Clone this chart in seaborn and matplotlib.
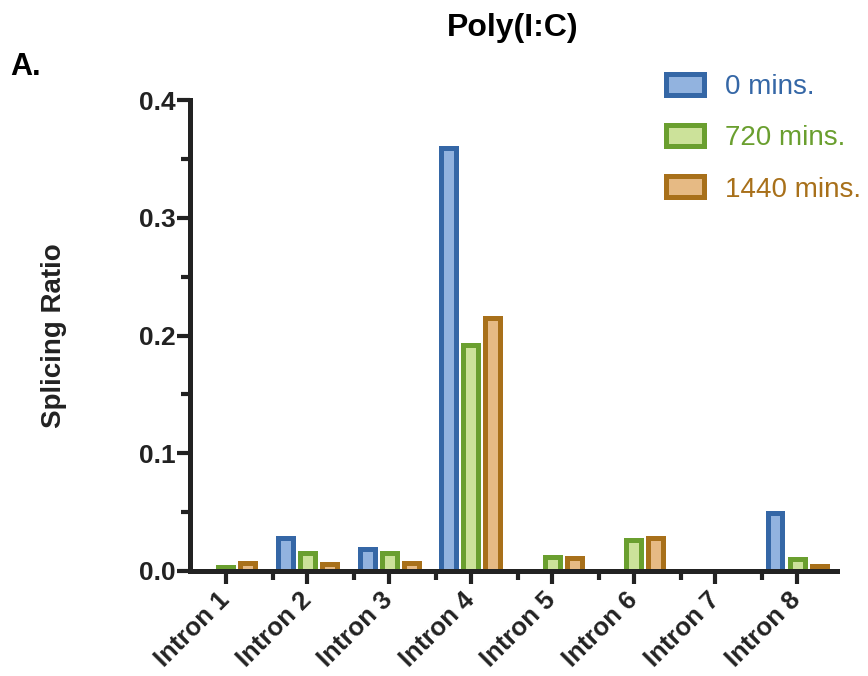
import matplotlib
matplotlib.use("Agg")
import matplotlib.pyplot as plt
from matplotlib.patches import Patch
from matplotlib.ticker import MultipleLocator, FixedLocator, FormatStrFormatter
import numpy as np
import pandas as pd
import seaborn as sns

# Splicing ratios per intron at each time point after Poly(I:C) treatment
introns = ["Intron 1", "Intron 2", "Intron 3", "Intron 4",
           "Intron 5", "Intron 6", "Intron 7", "Intron 8"]
time_points = ["0 mins.", "720 mins.", "1440 mins."]
ratio_0 = [0.0, 0.028, 0.019, 0.359, 0.0, 0.0, 0.0, 0.049]
ratio_720 = [0.003, 0.015, 0.015, 0.192, 0.012, 0.026, 0.0, 0.010]
ratio_1440 = [0.007, 0.006, 0.007, 0.215, 0.011, 0.028, 0.0, 0.004]

edge_colors = ["#3567A6", "#6A9F2F", "#A8701A"]
fill_colors = ["#92B3DF", "#CCE29A", "#E6BA84"]
ink = "#222222"

df = pd.DataFrame({
    "Intron": introns * 3,
    "Time": np.repeat(time_points, len(introns)),
    "Ratio": ratio_0 + ratio_720 + ratio_1440,
})

sns.set_style("ticks")
plt.rcParams["font.family"] = ["Liberation Sans", "DejaVu Sans"]

fig = plt.figure(figsize=(8.68, 6.76), dpi=100)
ax = fig.add_axes([190 / 868, 105 / 676, 647 / 868, 471 / 676])

sns.barplot(data=df, x="Intron", y="Ratio", hue="Time", order=introns,
            hue_order=time_points, palette=fill_colors, width=0.81,
            gap=0.32, linewidth=3.6, saturation=1, legend=False, ax=ax)

for container, ec in zip(ax.containers, edge_colors):
    for bar in container:
        bar.set_edgecolor(ec)
        bar.set_linewidth(3.6)
        bar.set_zorder(1)
        if bar.get_height() == 0:
            bar.set_visible(False)

ax.set_xlim(-0.44, 7.49)
ax.set_ylim(0, 0.4)
ax.yaxis.set_major_locator(MultipleLocator(0.1))
ax.yaxis.set_minor_locator(MultipleLocator(0.05))
ax.xaxis.set_minor_locator(FixedLocator([i + 0.575 for i in range(7)]))
ax.yaxis.set_major_formatter(FormatStrFormatter("%.1f"))

for side in ["top", "right"]:
    ax.spines[side].set_visible(False)
for side in ["left", "bottom"]:
    ax.spines[side].set_linewidth(3.6)
    ax.spines[side].set_color(ink)
    ax.spines[side].set_capstyle("projecting")

ax.tick_params(which="major", length=9.5, width=3, color=ink,
               labelsize=19, labelcolor=ink)
ax.tick_params(which="minor", length=6.5, width=3, color=ink)
ax.tick_params(axis="y", which="major", pad=0.5)
ax.tick_params(axis="x", which="major", pad=9, labelsize=18.5)

for lab in ax.get_yticklabels():
    lab.set_fontweight("bold")
for lab in ax.get_xticklabels():
    lab.set_fontweight("bold")
    lab.set_rotation(45)
    lab.set_ha("right")
    lab.set_va("center")
    lab.set_rotation_mode("anchor")

ax.set_xlabel("")
ax.set_ylabel("Splicing Ratio", fontsize=20, fontweight="bold", color=ink)
ax.yaxis.set_label_coords(-0.19, 0.5)

handles = [Patch(facecolor=fc, edgecolor=ec, linewidth=3.6)
           for fc, ec in zip(fill_colors, edge_colors)]
leg = fig.legend(handles, time_points, loc="upper left",
                 bbox_to_anchor=(665.5 / 868, 1 - 74 / 676),
                 frameon=False, fontsize=20, handlelength=1.4,
                 handleheight=0.79, handletextpad=0.75, labelspacing=0.9,
                 borderpad=0, borderaxespad=0, labelcolor=edge_colors)

fig.text(513 / 868, 1 - 28 / 676, "Poly(I:C)", ha="center", va="center",
         fontsize=23, fontweight="bold", color="black")
fig.text(10 / 868, 1 - 67 / 676, "A.", ha="left", va="center",
         fontsize=22, fontweight="bold", color="black")

fig.savefig("out.png", dpi=100, facecolor="white")
